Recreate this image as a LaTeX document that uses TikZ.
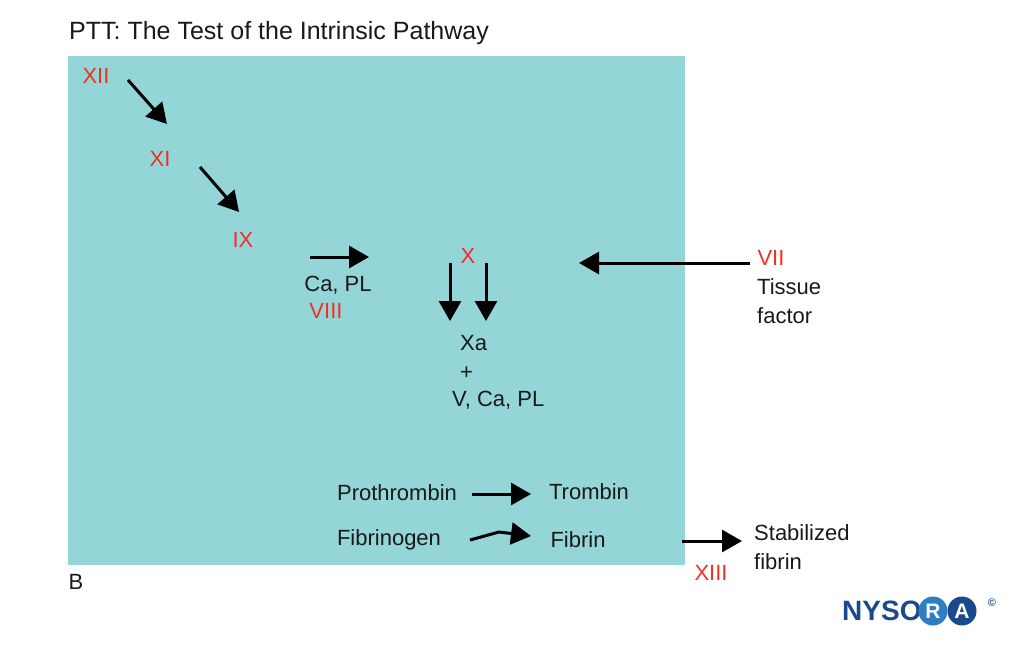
\documentclass[tikz,border=0pt]{standalone}
\usepackage{fontspec}
\setmainfont{Liberation Sans}
\usetikzlibrary{arrows.meta}
\definecolor{bg}{HTML}{94D5D7}
\definecolor{fr}{HTML}{EE3124}
\definecolor{ny}{HTML}{1B4A8C}
\definecolor{nyl}{HTML}{2E7EC1}
\begin{document}
\begin{tikzpicture}[x=1pt,y=-1pt,
  t/.style={font=\fontsize{22}{25}\selectfont,inner sep=0pt,text=black!90},
  f/.style={t,text=fr},
  ar/.style={line width=3pt,-{Triangle[length=20pt,width=22pt]}}]
\useasboundingbox (0,0) rectangle (1024,651);
\fill[bg] (68,56) rectangle (685,565);
\node[t,font=\fontsize{25}{28}\selectfont,anchor=west] (title) at (69,33) {PTT: The Test of the Intrinsic Pathway};
\node[f] (xii) at (96,76) {XII};
\node[f] (xi) at (160,159) {XI};
\node[f] (ix) at (243,240) {IX};
\node[t] (capl) at (338,285) {Ca, PL};
\node[f] (viii) at (326,311) {VIII};
\node[f] (x) at (468,256) {X};
\node[f] (vii) at (771,258) {VII};
\node[t,anchor=west] (tis) at (757,287) {Tissue};
\node[t,anchor=west] (fac) at (757,316) {factor};
\node[t,anchor=west] (xa) at (460,343) {Xa};
\node[t,anchor=west] (plus) at (460,373) {+};
\node[t,anchor=west] (vcapl) at (452,400) {V, Ca, PL};
\node[t] (pro) at (397,493) {Prothrombin};
\node[t] (tro) at (589,492) {Trombin};
\node[t] (fgn) at (389,540) {Fibrinogen};
\node[t] (fib) at (578,540) {Fibrin};
\node[t,anchor=west] (stab) at (754,533) {Stabilized};
\node[t,anchor=west] (sfib) at (754,562) {fibrin};
\node[f] (xiii) at (711,573) {XIII};
\node[t] (b) at (76,582) {B};
\coordinate (a1) at (128,80); \coordinate (a1e) at (167,124);
\coordinate (a2) at (200,167); \coordinate (a2e) at (239,212);
\coordinate (a3) at (310,257); \coordinate (a3e) at (369,257);
\coordinate (d1) at (450,263); \coordinate (d1e) at (450,321);
\coordinate (d2) at (486,263); \coordinate (d2e) at (486,321);
\coordinate (v1) at (750,263); \coordinate (v1e) at (579,263);
\coordinate (p1) at (472,494); \coordinate (p1e) at (531,494);
\coordinate (f1) at (470,540); \coordinate (fm) at (499,532); \coordinate (f1e) at (531,536);
\coordinate (s1) at (682,541); \coordinate (s1e) at (742,541);
\draw[ar] (a1)--(a1e);
\draw[ar] (a2)--(a2e);
\draw[ar] (a3)--(a3e);
\draw[ar] (d1)--(d1e);
\draw[ar] (d2)--(d2e);
\draw[ar] (v1)--(v1e);
\draw[ar] (p1)--(p1e);
\draw[ar] (f1)--(fm)--(f1e);
\draw[ar] (s1)--(s1e);
% logo
\node[inner sep=0pt,anchor=west,text=ny,font=\fontsize{28}{30}\selectfont\bfseries] (nyso) at (842,611) {NYSO};
\fill[nyl] (933,611) circle (14.5);
\fill[ny] (962,611) circle (14.5);
\node[text=white,font=\fontsize{21}{24}\selectfont\bfseries,inner sep=0pt] (lr) at (933,611) {R};
\node[text=white,font=\fontsize{21}{24}\selectfont\bfseries,inner sep=0pt] (la) at (962,611) {A};
\node[text=ny,font=\fontsize{11}{12}\selectfont\bfseries,inner sep=0pt] (cp) at (992,603) {©};
\end{tikzpicture}
\end{document}
